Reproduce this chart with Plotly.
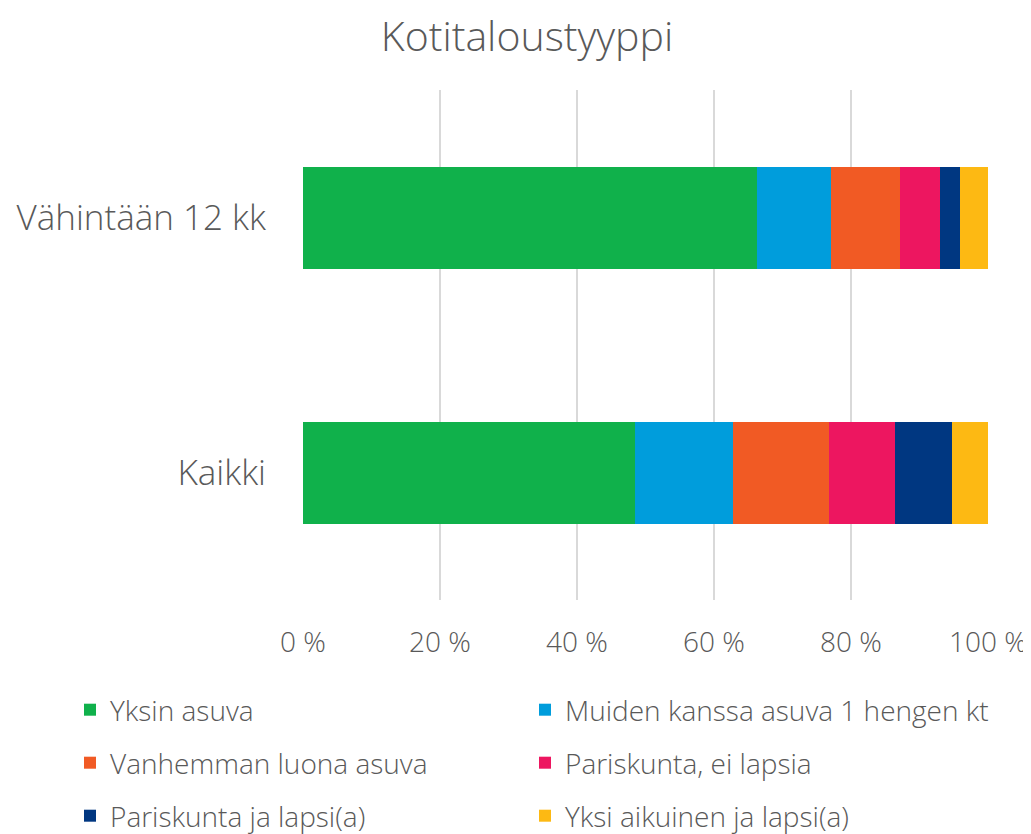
import plotly.graph_objects as go

categories = ["Kaikki", "Vähintään 12 kk"]

series_names = [
    "Yksin asuva",
    "Muiden kanssa asuva 1 hengen kt",
    "Vanhemman luona asuva",
    "Pariskunta, ei lapsia",
    "Pariskunta ja lapsi(a)",
    "Yksi aikuinen ja lapsi(a)",
]

# shares in percent, order: Kaikki, Vähintään 12 kk
yksin_asuva = [48.5, 66.3]
muiden_kanssa = [14.3, 10.8]
vanhemman_luona = [14.0, 10.0]
pariskunta_ei_lapsia = [9.6, 5.9]
pariskunta_lapsi = [8.4, 2.9]
yksi_aikuinen_lapsi = [5.2, 4.1]

series_values = [yksin_asuva, muiden_kanssa, vanhemman_luona,
                 pariskunta_ei_lapsia, pariskunta_lapsi, yksi_aikuinen_lapsi]

colors = ["#10b14b", "#009ddc", "#f15a24", "#ed1660", "#003781", "#fdb913"]

FONT = "Open Sans"
GREY = "#595959"

# the page body adds an 8 px margin, so the figure is laid out 8 px smaller
OFF = 8
W, H = 1031 - OFF, 834 - OFF
left, right, top, bottom = 303 - OFF, 988 - OFF, 90 - OFF, 600 - OFF
plot_h = bottom - top

# legend grid: two columns, three rows (screen pixels)
legend_cols = [70, 525]
legend_rows = [711, 764, 817]


def legend_box(px, py):
    return dict(
        x=(px - OFF - left) / (right - left), xanchor="left",
        y=(bottom - (py - OFF - 1)) / plot_h, yanchor="middle",
        font=dict(family=FONT, size=28, color=GREY, weight=300),
        bgcolor="rgba(0,0,0,0)",
    )


fig = go.Figure()
legends = {}
for i, (name, vals, col) in enumerate(zip(series_names, series_values, colors)):
    lg = "legend" if i == 0 else f"legend{i + 1}"
    legends[lg] = legend_box(legend_cols[i % 2], legend_rows[i // 2])
    fig.add_trace(go.Bar(
        y=categories, x=vals, name=name, orientation="h",
        marker=dict(color=col, line=dict(width=0)),
        legend=lg, showlegend=True,
    ))

fig.update_layout(
    width=W, height=H, showlegend=True,
    barmode="stack", bargap=0.6,
    paper_bgcolor="white", plot_bgcolor="white",
    margin=dict(l=left, r=W - right, t=top, b=H - bottom, autoexpand=False),
    font=dict(family=FONT, color=GREY, weight=300),
    title=dict(text="Kotitaloustyyppi", x=(527 - OFF) / W, xanchor="center",
               y=1 - (37 - OFF) / H, yanchor="middle",
               font=dict(family=FONT, size=41, color=GREY, weight=300)),
    xaxis=dict(range=[0, 100], dtick=20, ticksuffix=" %",
               showgrid=True, gridcolor="#d9d9d9", gridwidth=2,
               zeroline=False, showline=False, automargin=False,
               tickfont=dict(family=FONT, size=28, color=GREY, weight=300),
               ticklabelstandoff=23, fixedrange=True),
    yaxis=dict(showgrid=False, zeroline=False, showline=False, automargin=False,
               tickfont=dict(family=FONT, size=35, color=GREY, weight=300),
               ticklabelstandoff=36, fixedrange=True),
    **legends,
)

fig.write_html("out.html")
